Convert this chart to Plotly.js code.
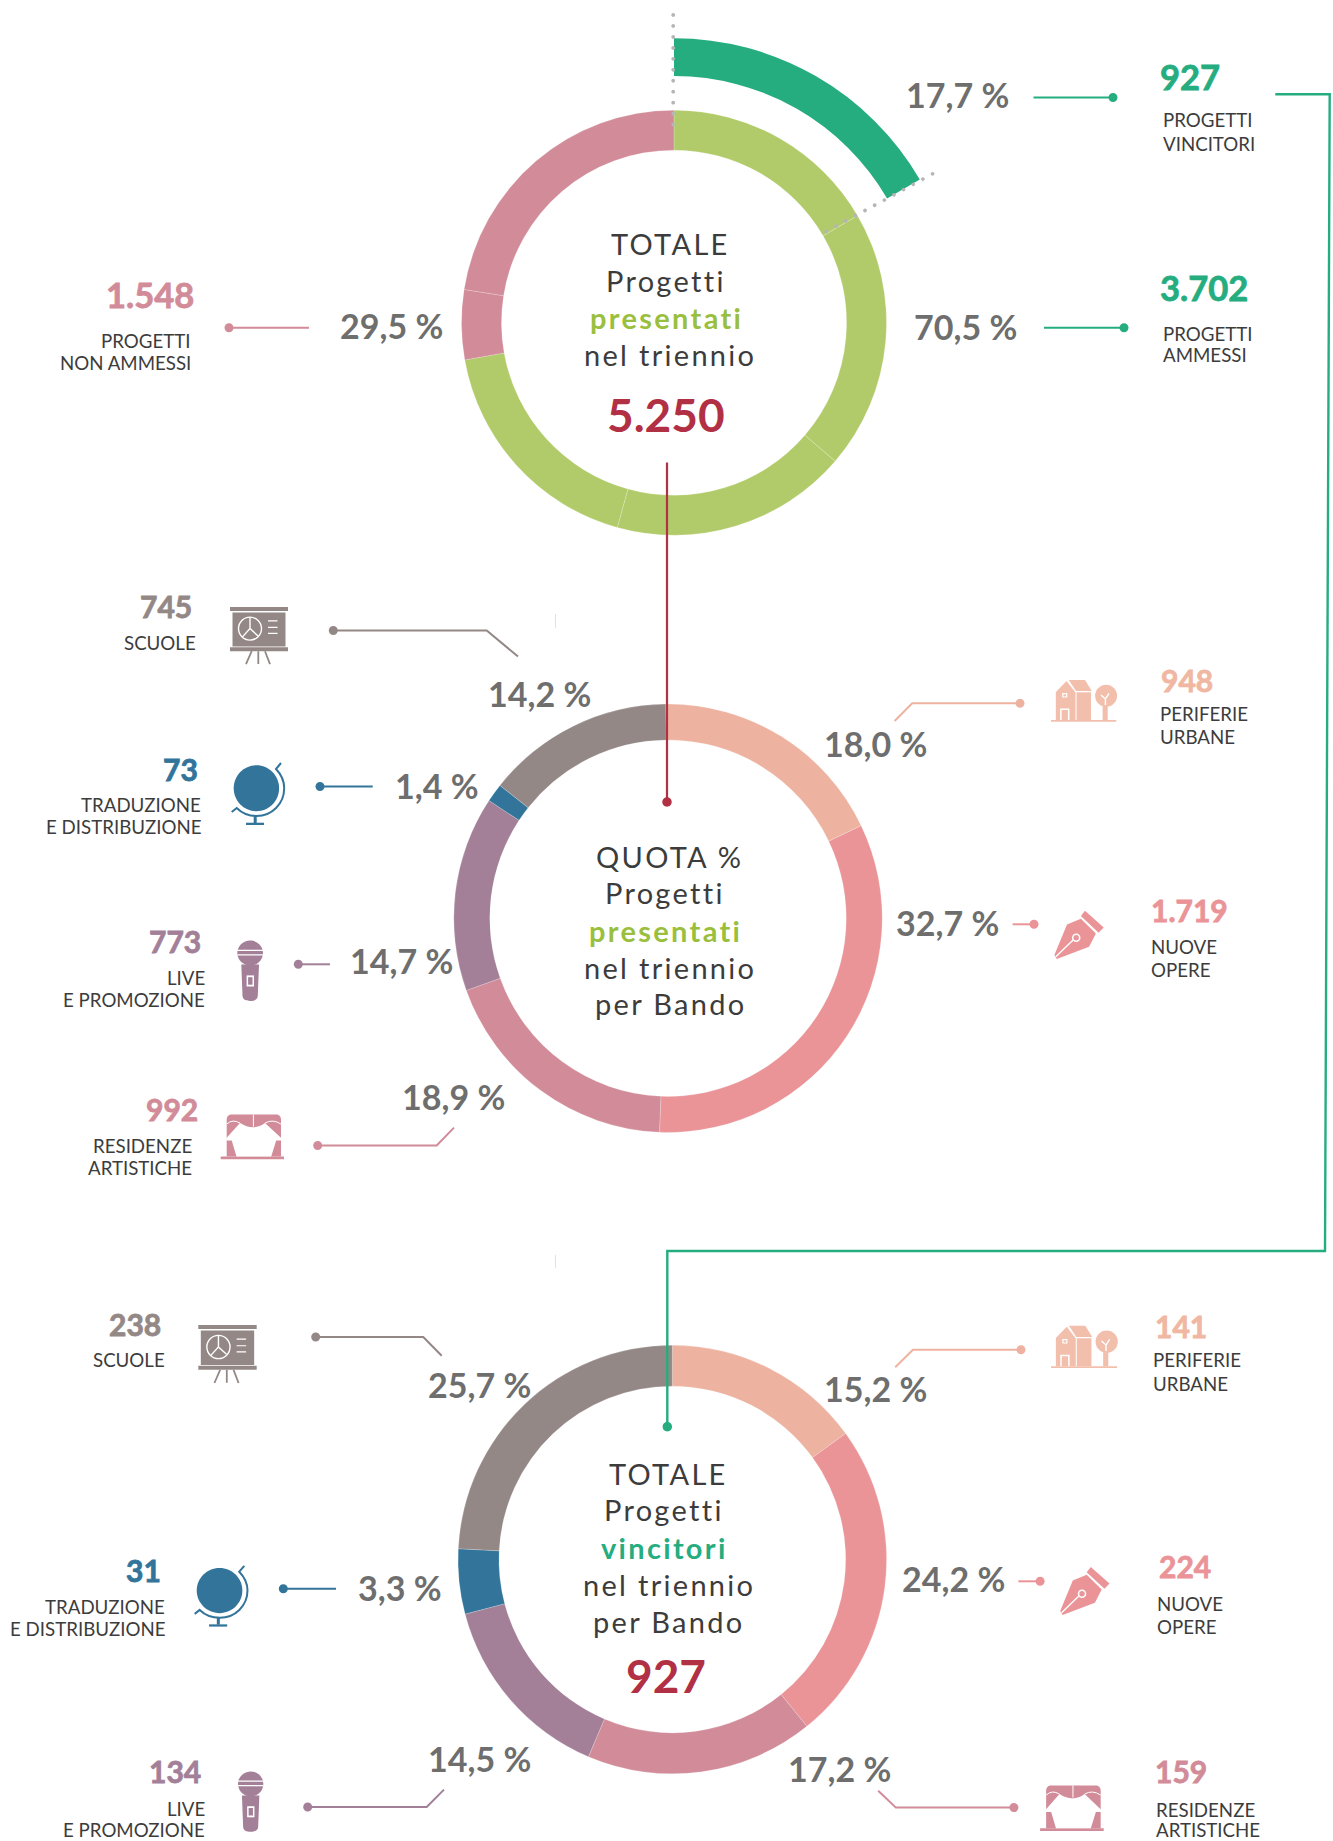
<!DOCTYPE html>
<html lang="it">
<head>
<meta charset="utf-8">
<title>Progetti presentati e vincitori nel triennio</title>
<script src="https://cdn.plot.ly/plotly-3.0.1.min.js"></script>
<style>html,body{margin:0;padding:0;background:#fff}#chart{width:1333px;height:1841px}</style>
</head>
<body>
<div id="chart"></div>
<script>
// ---------- data ----------
const bandi = ['Periferie urbane','Nuove opere','Residenze artistiche','Live e promozione','Traduzione e distribuzione','Scuole'];
const presentatiPerBando = [948,1719,992,773,73,745];
// the vincitori ring as actually drawn (share of the circle read from the arcs)
const vincitoriArchi = [15.0,24.2,17.2,14.5,4.9,24.2];
// the totale ring: drawn arcs, with the faint seams inside each colour
const totaleArchi = [16.6,19.7,18.0,17.9,5.3,22.5];
const totaleEtichette = ['a1','a2','a3','a4','n1','n2'];
const vincitoriArco = [16.6,83.4];

const verdeChiaro='#b2cb6a', rosa='#d28b98', verde='#25ad7f', pesca='#eeb3a0', corallo='#ea9498',
      malva='#a38098', blu='#32749a', grigio='#948886', rosso='#b23044', testo='#3c3c3c', perc='#6e6e6e';
const coloriBando=[pesca,corallo,rosa,malva,blu,grigio];

const W=1333,H=1841;
const dom=(cx,cy,R)=>({x:[(cx-R)/W,(cx+R)/W],y:[1-(cy+R)/H,1-(cy-R)/H]});
const pie=(labels,values,colors,c,hole,seam,rot)=>({type:'pie',labels,values,sort:false,direction:'clockwise',rotation:rot||0,
  hole,textinfo:'none',hoverinfo:'skip',showlegend:false,domain:dom(c[0],c[1],c[2]),
  marker:{colors,line:{color:seam||'rgba(255,255,255,0.4)',width:0.5}}});

const data=[
  pie(totaleEtichette,totaleArchi,[verdeChiaro,verdeChiaro,verdeChiaro,verdeChiaro,rosa,rosa],[674,322.7,212.5],0.812),
  pie(['Vincitori','Resto'],vincitoriArco,[verde,'rgba(0,0,0,0)'],[674,322.7,284.5],0.867,'rgba(0,0,0,0)'),
  pie(bandi,presentatiPerBando,coloriBando,[668,918.2,214.2],0.832,null,-0.6),
  pie(bandi,vincitoriArchi,coloriBando,[672.3,1559.5,214.3],0.809)
];

// ---------- helpers in page pixels ----------
const px=x=>(x/W).toFixed(5), py=y=>(1-y/H).toFixed(5);
const shapes=[], annotations=[];
function toPaper(d,ox,oy,sx,sy){
  return d.replace(/(-?[\d.]+),(-?[\d.]+)/g,(m,a,b)=>px(ox+a*sx)+','+py(oy+b*sy));
}
function ell(cx,cy,rx,ry){
  const k=0.5523;
  return `M${cx-rx},${cy} C${cx-rx},${cy-k*ry} ${cx-k*rx},${cy-ry} ${cx},${cy-ry} C${cx+k*rx},${cy-ry} ${cx+rx},${cy-k*ry} ${cx+rx},${cy} C${cx+rx},${cy+k*ry} ${cx+k*rx},${cy+ry} ${cx},${cy+ry} C${cx-k*rx},${cy+ry} ${cx-rx},${cy+k*ry} ${cx-rx},${cy} Z`;
}
function rect(a,b,c,d){return `M${a},${b} L${c},${b} L${c},${d} L${a},${d} Z`;}
function addFill(d,color){shapes.push({type:'path',xref:'paper',yref:'paper',path:d,fillcolor:color,line:{width:0}});}
function addStroke(d,color,w,dash){shapes.push({type:'path',xref:'paper',yref:'paper',path:d,fillcolor:'rgba(0,0,0,0)',line:{color,width:w,dash:dash||'solid'}});}
function leader(points,dot,color){
  const d='M'+points.map(p=>p[0]+','+p[1]).join(' L');
  addStroke(toPaper(d,0,0,1,1),color,2);
  addFill(toPaper(ell(dot[0],dot[1],dot[2]||4.5,dot[2]||4.5),0,0,1,1),color);
}
function dots(x0,y0,dx,dy,n){
  for(let i=0;i<n;i++) addFill(toPaper(ell(x0+i*dx,y0+i*dy,1.9,1.9),0,0,1,1),'#b5b5b5');
}
function T(x,y,text,size,color,anchor,weight,spacing,thick){
  let st='';
  if(spacing) st+=`letter-spacing:${spacing}px;`;
  if(thick) st+=`stroke:${color};stroke-width:${thick}px;`;
  const t=st?`<span style="${st}">${text}</span>`:text;
  const xx=anchor==='left'?x-1.8:(anchor==='right'?x+0.5:x);
  annotations.push({xref:'paper',yref:'paper',x:xx/W,y:1-y/H,text:t,showarrow:false,xanchor:anchor||'center',yanchor:'middle',
    borderpad:0,borderwidth:0,font:{family:'Lato, "Open Sans", sans-serif',size,color,weight:weight||400}});
}

// ---------- icons, drawn in a local box then fitted to [x0,x1]x[y0,y1] ----------
const icons={
  easel:{w:58,h:57.3,parts:c=>[
    [rect(0,0,58,4),c],[rect(2.5,5.5,55.5,39.5),c],[rect(0,40.3,58,44.3),c],
    [ell(20,21.7,11.5,11.5),'s#fff',1.4],['M20,10.5 L20,21.7 L12.5,30 M20,21.7 L28,29','s#fff',1.4],
    ['M38,14 L47.5,14 M38,20.5 L47.5,20.5 M38,26.5 L47.5,26.5','s#fff',1.2],
    ['M21.7,44.3 L16,57.3 M28.3,44.3 L28.3,57 M35,44.3 L40,57.3','s'+c,1.8]]},
  globe:{w:53.3,h:62,parts:c=>[
    [ell(24.7,25.3,22.7,23),c],
    ['M49.3,0 L44.3,6 C50,12 52.5,18 52.5,25 C52.5,41 40,53 25,53 C17,53 10,50 5,45 L0,49','s'+c,2],
    [rect(22,53,25,60),c],[rect(14.3,59.7,32.3,62),c]]},
  mic:{w:25.7,h:60.4,parts:c=>[
    [ell(12.85,12.5,12.85,12.5),c],
    ['M4,24 L21.7,24 L20.5,55 C20.5,59 17,60.4 12.85,60.4 C8.7,60.4 5.2,59 5.2,55 Z',c],
    ['M0,9.7 L25.7,9.7 M0,14.3 L25.7,14.3','s#fff',1.2],
    [rect(9.3,34.8,16.7,45.9),'#fff'],[rect(10.8,36.6,15.2,44.1),c]]},
  curtain:{w:63.3,h:44.7,parts:c=>[
    ['M6,5 C6,2 8,0 11,0 L55.3,0 C58.3,0 60.3,2 60.3,5 L60.3,42 L6,42 Z',c],
    [rect(0,41.9,63.3,44.7),c],
    ['M19.3,8.5 Q32.7,17 44.3,8.5 L60.8,23.7 L60.8,26 L55.5,26 L50.5,41.9 L15.8,41.9 L11,26 L5.5,26 L5.5,23.7 Z','#fff'],
    ['M6,9.5 Q12,4 19.3,8.5 M44.3,8.5 Q52,4 60.3,9.5 M32.7,0 L32.7,12','s#fff',1]]},
  house:{w:65.3,h:41.7,parts:c=>[
    ['M4.8,12 L15.6,1 L24.5,12.5 L24.5,40 L4.8,40 Z',c],
    ['M17.7,0 L34,0 L40.8,11 L25,11 Z',c],
    [rect(25.5,12.3,40,40),c],
    [ell(55.1,15.7,11,11),c],[rect(51.6,26,56.7,40),c],[rect(0,40,65.3,41.7),c],
    ['M9.9,40 L9.9,29.3 L17.7,29.3 L17.7,40','s#fff',1.5],
    [rect(11.8,13.6,15.7,17),'s#fff',1.2],
    ['M54.4,25 L54.4,19 L50,15 M54.4,19 L58,13.5','s#fff',1.4]]},
  pen:{w:49.3,h:48.3,parts:c=>[
    ['M30.6,0 L49.3,16.7 L44.2,22 L26.5,5.3 Z',c],
    ['M12.6,13.7 L26.5,8 L41.5,22.7 L34.7,36 L2.4,48.3 L0,44.3 Z',c],
    ['M1.4,46 L18.7,29.3','s#fff',1.4],
    [ell(21.8,27,3.5,3.5),'s#fff',1.6]]}
};
function icon(name,x0,x1,y0,y1,color){
  const ic=icons[name], sx=(x1-x0)/ic.w, sy=(y1-y0)/ic.h;
  ic.parts(color).forEach(p=>{
    const d=toPaper(p[0],x0,y0,sx,sy);
    if(p[1][0]==='s') addStroke(d,p[1].slice(1),p[2]); else addFill(d,p[1]);
  });
}

// ---------- dotted guides and long connectors ----------
dots(673.2,15,0,10.96,11);
dots(826.4,231.4,9.65,-5.23,12);
addStroke(toPaper('M667,462.5 L667,802',0,0,1,1),rosso,2.2);
addFill(toPaper(ell(667,802,4.7,4.7),0,0,1,1),rosso);
addStroke(toPaper('M1275.3,94.3 L1329.7,94.3 L1325,1251 L667.3,1251 L667.3,1426.8',0,0,1,1),verde,2.4);
addFill(toPaper(ell(667.3,1426.8,4.7,4.7),0,0,1,1),verde);
addStroke(toPaper('M555.5,614 L555.5,628',0,0,1,1),'#e2e2e2',1);
addStroke(toPaper('M555.5,1255 L555.5,1268',0,0,1,1),'#e2e2e2',1);

// ---------- leaders ----------
leader([[1033.5,97.5],[1113,97.5]],[1113,97.5],verde);
leader([[229,327.7],[309,327.7]],[229,327.7],rosa);
leader([[1044,327.7],[1124,327.7]],[1124,327.7],verde);
leader([[333.3,630.6],[486.7,630.6],[518,656.5]],[333.3,630.6],grigio);
leader([[320,786.4],[372.7,786.4]],[320,786.4],blu);
leader([[298.3,964.3],[330,964.3]],[298.3,964.3],malva);
leader([[317.7,1145.4],[436.7,1145.4],[454,1127.6]],[317.7,1145.4],rosa);
leader([[894.6,721],[912.2,703.3],[1020,703.3]],[1020,703.3],pesca);
leader([[1012.6,924.3],[1034,924.3]],[1034,924.3],corallo);
leader([[315.7,1337],[423.3,1337],[441.7,1355.7]],[315.7,1337],grigio);
leader([[283.3,1588.7],[336,1588.7]],[283.3,1588.7],blu);
leader([[307.7,1806.9],[426.7,1806.9],[444,1789.6]],[307.7,1806.9],malva);
leader([[895.2,1367.3],[912.9,1349.7],[1021,1349.7]],[1021,1349.7],pesca);
leader([[1018.4,1581.3],[1040.1,1581.3]],[1040.1,1581.3],corallo);
leader([[878.2,1790.7],[895.9,1807.6],[1013.9,1807.6]],[1013.9,1807.6],rosa);

// ---------- icons ----------
icon('easel',230,288,606.9,664.2,grigio);
icon('globe',231.7,285,763,825,blu);
icon('mic',237.3,263,940.6,1001,malva);
icon('curtain',220.7,284,1114.6,1159.3,rosa);
icon('house',1051,1116.3,680,721.7,'#f3bfad');
icon('pen',1054.4,1103.7,910.7,959,corallo);
icon('easel',198.3,256.7,1325,1383,grigio);
icon('globe',194.7,248.3,1565.8,1626.6,blu);
icon('mic',238,263.3,1771.4,1831.8,malva);
icon('house',1051,1117,1325.8,1368,'#f3bfad');
icon('pen',1060.2,1109.5,1566.9,1615,corallo);
icon('curtain',1040.1,1103.7,1785.4,1831.1,rosa);

// ---------- centre texts ----------
const cs=29, sp=2.3;
T(670,243.6,'TOTALE',cs,testo,'center',400,sp);
T(666.4,281,'Progetti',cs,testo,'center',400,sp);
T(666.4,317.4,'presentati',cs,'#9abf3e','center',700,sp);
T(670,354.4,'nel triennio',cs,testo,'center',400,sp);
T(666.4,414,'5.250',46,rosso,'center',700);
T(669.3,856.7,'QUOTA %',cs,testo,'center',400,sp);
T(665.3,892.5,'Progetti',cs,testo,'center',400,sp);
T(665.3,930.8,'presentati',cs,'#9abf3e','center',700,sp);
T(670,967.3,'nel triennio',cs,testo,'center',400,sp);
T(670,1004,'per Bando',cs,testo,'center',400,sp);
T(668.7,1473.7,'TOTALE',cs,testo,'center',400,sp);
T(664,1509.5,'Progetti',cs,testo,'center',400,sp);
T(664,1547,'vincitori',cs,verde,'center',700,sp);
T(668.7,1584.5,'nel triennio',cs,testo,'center',400,sp);
T(668.7,1621,'per Bando',cs,testo,'center',400,sp);
T(665.7,1675.7,'927',46,rosso,'center',700);

// ---------- percentages ----------
const ps=34;
[[957,96,'17,7 %'],[391,326.5,'29,5 %'],[965.4,327.7,'70,5 %'],[539,695,'14,2 %'],[436.7,786.4,'1,4 %'],
 [401.7,961.6,'14,7 %'],[453.3,1098,'18,9 %'],[875,744.3,'18,0 %'],[947.3,923.3,'32,7 %'],
 [479,1385.8,'25,7 %'],[400,1588.7,'3,3 %'],[479,1759.3,'14,5 %'],[875.5,1390,'15,2 %'],[953.7,1579.9,'24,2 %'],[839.7,1769.8,'17,2 %']]
 .forEach(p=>T(p[0],p[1]-1.2,p[2],ps,perc,'center',700));

// ---------- numbers and names ----------
const ns=34.5, ns2=30, ls=18.7, th=0.8;
const N=(x,y,t,s,c,a)=>T(x,y-1.2,t,s,c,a,700,0,th);
N(1161.5,77.5,'927',ns,verde,'left');
T(1165,120.5,'PROGETTI',ls,testo,'left'); T(1165,143.5,'VINCITORI',ls,testo,'left');
N(1161.5,289,'3.702',ns,verde,'left');
T(1165,333.5,'PROGETTI',ls,testo,'left'); T(1165,354.7,'AMMESSI',ls,testo,'left');
N(193.8,296,'1.548',ns,rosa,'right');
T(190,340.6,'PROGETTI',ls,testo,'right'); T(190,363,'NON AMMESSI',ls,testo,'right');

N(191.7,606.9,'745',ns2,grigio,'right'); T(195,642.5,'SCUOLE',ls,testo,'right');
N(197.3,769.8,'73',ns2,blu,'right'); T(200.7,805.4,'TRADUZIONE',ls,testo,'right'); T(200.7,827.1,'E DISTRIBUZIONE',ls,testo,'right');
N(200,941.8,'773',ns2,malva,'right'); T(204,978.2,'LIVE',ls,testo,'right'); T(204,1000.3,'E PROMOZIONE',ls,testo,'right');
N(197.3,1109.8,'992',ns2,rosa,'right'); T(191.7,1146.2,'RESIDENZE',ls,testo,'right'); T(191.7,1168.4,'ARTISTICHE',ls,testo,'right');
N(1162.6,680.7,'948',ns2,'#f0b7a3','left'); T(1161.6,714.3,'PERIFERIE',ls,testo,'left'); T(1161.6,737.3,'URBANE',ls,testo,'left');
N(1152.7,910.7,'1.719',ns2,corallo,'left'); T(1152.7,947.3,'NUOVE',ls,testo,'left'); T(1152.7,970,'OPERE',ls,testo,'left');

N(160.7,1325.1,'238',ns2,grigio,'right'); T(164,1360.3,'SCUOLE',ls,testo,'right');
N(160.7,1571,'31',ns2,blu,'right'); T(164,1607.3,'TRADUZIONE',ls,testo,'right'); T(164,1629,'E DISTRIBUZIONE',ls,testo,'right');
N(200.7,1772.4,'134',ns2,malva,'right'); T(204,1809.3,'LIVE',ls,testo,'right'); T(204,1829.5,'E PROMOZIONE',ls,testo,'right');
N(1157,1326.9,'141',ns2,'#f0b7a3','left'); T(1154.4,1360.3,'PERIFERIE',ls,testo,'left'); T(1154.4,1383.5,'URBANE',ls,testo,'left');
N(1161.2,1567.6,'224',ns2,corallo,'left'); T(1158.5,1604.1,'NUOVE',ls,testo,'left'); T(1158.5,1627.3,'OPERE',ls,testo,'left');
N(1157,1772.4,'159',ns2,rosa,'left'); T(1157.8,1810,'RESIDENZE',ls,testo,'left'); T(1157.8,1829.5,'ARTISTICHE',ls,testo,'left');

Plotly.newPlot('chart',data,{
  width:W,height:H,margin:{l:0,r:0,t:0,b:0,pad:0},paper_bgcolor:'#ffffff',plot_bgcolor:'#ffffff',
  showlegend:false,shapes,annotations
},{staticPlot:true,displayModeBar:false});
</script>
</body>
</html>
